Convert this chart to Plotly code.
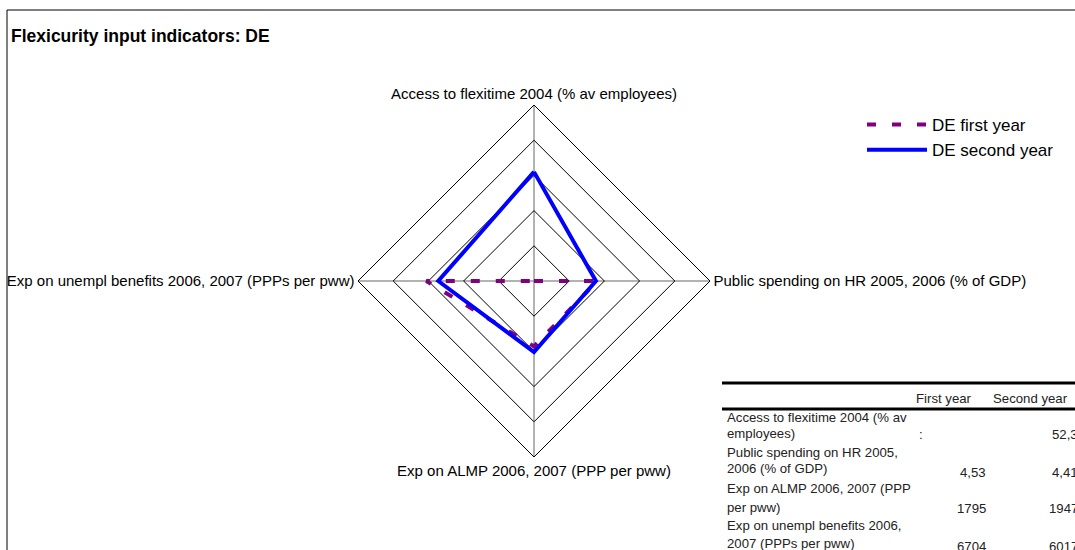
"""Flexicurity input indicators radar chart for DE."""

import plotly.graph_objects as go

W, H = 1075, 550

indicators = [
    "Access to flexitime 2004 (% av employees)",
    "Public spending on HR 2005, 2006 (% of GDP)",
    "Exp on ALMP 2006, 2007 (PPP per pww)",
    "Exp on unempl benefits 2006, 2007 (PPPs per pww)",
]
# scores as drawn on the radar (missing first-year flexitime drawn at 0)
first_year_score = [0.0, 1.80, 1.86, 3.06]
second_year_score = [3.10, 1.76, 2.02, 2.72]

# table contents
table_labels = [
    ["Access to flexitime 2004 (% av", "employees)"],
    ["Public spending on HR 2005,", "2006 (% of GDP)"],
    ["Exp on ALMP 2006, 2007 (PPP", "per pww)"],
    ["Exp on unempl benefits 2006,", "2007 (PPPs per pww)"],
]
first_year_raw = [":", "4,53", "1795", "6704"]
second_year_raw = ["52,3", "4,41", "1947", "6017"]

FONT = "Liberation Sans, Arial, sans-serif"
TABLE_FONT = dict(family=FONT, size=13.2, color="#222222")


def px(x):
    return x / W


def py(y):
    return 1 - y / H


def closed(values):
    return values + values[:1]


def table_text(text, x, y, anchor):
    fig.add_annotation(text=text, x=px(x), y=py(y), xref="paper", yref="paper",
                       xanchor=anchor, yanchor="middle", showarrow=False, font=TABLE_FONT)


fig = go.Figure()
fig.add_trace(
    go.Scatterpolar(
        r=closed(first_year_score),
        theta=closed(indicators),
        mode="lines",
        name="DE first year",
        line=dict(color="#800080", width=4, dash="9px,16px"),
    )
)
fig.add_trace(
    go.Scatterpolar(
        r=closed(second_year_score),
        theta=closed(indicators),
        mode="lines",
        name="DE second year",
        line=dict(color="#0000FF", width=4),
    )
)

cx, cy, rad = 534, 281, 176
fig.update_layout(
    width=W,
    height=H,
    paper_bgcolor="white",
    font=dict(family=FONT, size=15, color="black"),
    margin=dict(l=0, r=0, t=0, b=0),
    title=dict(
        text="<b>Flexicurity input indicators: DE</b>",
        x=px(11),
        xanchor="left",
        y=py(36),
        yanchor="middle",
        font=dict(family=FONT, size=17.5, color="black"),
    ),
    polar=dict(
        domain=dict(x=[px(cx - rad), px(cx + rad)], y=[py(cy + rad), py(cy - rad)]),
        gridshape="linear",
        bgcolor="white",
        radialaxis=dict(
            range=[0, 5],
            dtick=1,
            showticklabels=False,
            ticks="",
            showline=False,
            gridcolor="black",
            gridwidth=1,
        ),
        angularaxis=dict(
            rotation=90,
            direction="clockwise",
            ticks="",
            showline=True,
            linecolor="black",
            linewidth=1,
            gridcolor="#666666",
            gridwidth=1,
            tickfont=dict(size=15),
        ),
    ),
    legend=dict(
        x=px(862),
        y=py(107),
        xanchor="left",
        yanchor="top",
        font=dict(size=17),
        itemwidth=60,
        bgcolor="rgba(0,0,0,0)",
        tracegroupgap=0,
    ),
    showlegend=True,
)

# outer frame (top and left edges visible)
fig.add_shape(
    type="rect", xref="paper", yref="paper",
    x0=px(7), y0=py(580), x1=px(1100), y1=py(10),
    line=dict(color="black", width=1),
)

# data table
label_ys = [(417, 433), (452, 468), (488, 507), (525, 543)]
value_ys = [434, 472, 508, 546]
for label, ys, vy, v1, v2 in zip(table_labels, label_ys, value_ys, first_year_raw, second_year_raw):
    for line, ly in zip(label, ys):
        table_text(line, 725, ly, "left")
    if v1 == ":":
        table_text(v1, 917, vy, "left")
    else:
        table_text(v1, 988, vy, "right")
    table_text(v2, 1080, vy, "right")

for rule_y in (383, 409):
    fig.add_shape(type="line", xref="paper", yref="paper",
                  x0=px(722), x1=px(1090), y0=py(rule_y), y1=py(rule_y),
                  line=dict(color="black", width=3))
table_text("First year", 944, 398, "center")
table_text("Second year", 1030, 398, "center")

# drop the default body margin so the figure sits at the page origin
fig.write_html(
    "out.html",
    config={"displayModeBar": False},
    post_script="document.body.style.margin = '0';",
)
